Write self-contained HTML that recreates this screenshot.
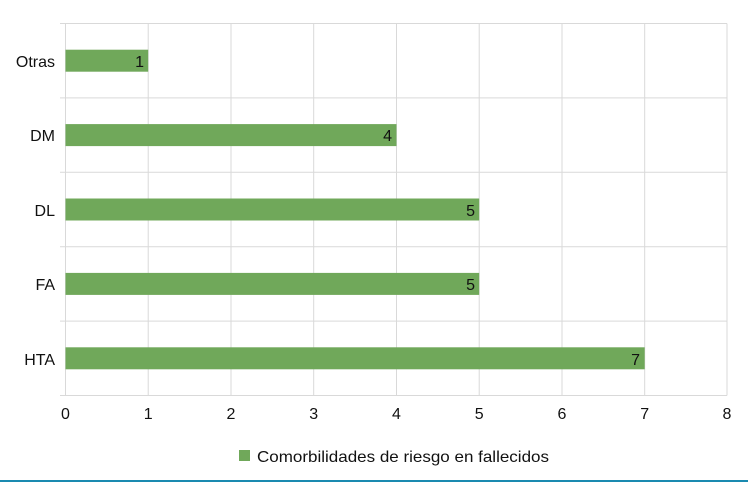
<!DOCTYPE html><html><head><style>body{margin:0;background:#fff;}</style></head><body>
<svg width="748" height="483" xmlns="http://www.w3.org/2000/svg" font-family="Liberation Sans, sans-serif">
<rect width="748" height="483" fill="#fff"/>
<g stroke="#d9d9d9" stroke-width="1">
<line x1="60" y1="23.5" x2="727" y2="23.5"/><line x1="60" y1="97.9" x2="727" y2="97.9"/><line x1="60" y1="172.3" x2="727" y2="172.3"/><line x1="60" y1="246.7" x2="727" y2="246.7"/><line x1="60" y1="321.1" x2="727" y2="321.1"/><line x1="60" y1="395.5" x2="727" y2="395.5"/>
<line x1="65.5" y1="23.5" x2="65.5" y2="395.5"/><line x1="148.2" y1="23.5" x2="148.2" y2="395.5"/><line x1="231" y1="23.5" x2="231" y2="395.5"/><line x1="313.7" y1="23.5" x2="313.7" y2="395.5"/><line x1="396.5" y1="23.5" x2="396.5" y2="395.5"/><line x1="479.2" y1="23.5" x2="479.2" y2="395.5"/><line x1="562" y1="23.5" x2="562" y2="395.5"/><line x1="644.7" y1="23.5" x2="644.7" y2="395.5"/><line x1="727" y1="23.5" x2="727" y2="395.5"/>
</g>
<g fill="#70a85a">
<rect x="65.5" y="49.7" width="82.7" height="22"/>
<rect x="65.5" y="124.1" width="331" height="22"/>
<rect x="65.5" y="198.5" width="413.7" height="22"/>
<rect x="65.5" y="272.9" width="413.7" height="22"/>
<rect x="65.5" y="347.3" width="579.2" height="22"/>
</g>
<g font-size="16" fill="#111" text-anchor="end">
<text x="144" y="67">1</text><text x="392" y="141">4</text><text x="475" y="216">5</text><text x="475" y="290">5</text><text x="640" y="365">7</text>
<text x="55" y="67">Otras</text><text x="55" y="141">DM</text><text x="55" y="216">DL</text><text x="55" y="290">FA</text><text x="55" y="365">HTA</text>
</g>
<g font-size="16" fill="#111" text-anchor="middle">
<text x="65.5" y="419">0</text><text x="148.2" y="419">1</text><text x="231" y="419">2</text><text x="313.7" y="419">3</text><text x="396.5" y="419">4</text><text x="479.2" y="419">5</text><text x="562" y="419">6</text><text x="644.7" y="419">7</text><text x="727" y="419">8</text>
</g>
<rect x="239" y="450" width="11" height="11" fill="#70a85a"/>
<text x="257" y="462" font-size="16" fill="#111" textLength="292" lengthAdjust="spacingAndGlyphs">Comorbilidades de riesgo en fallecidos</text>
<rect x="0" y="480" width="748" height="2" fill="#1a8ab0"/>
</svg>
</body></html>
